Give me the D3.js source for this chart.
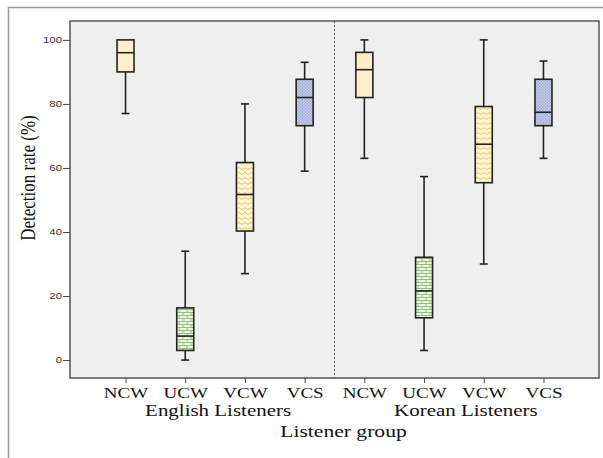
<!DOCTYPE html>
<html>
<head>
<meta charset="utf-8">
<script src="https://cdn.jsdelivr.net/npm/d3@7/dist/d3.min.js"></script>
<style>
  body { margin: 0; background: #fff; }
  svg { display: block; }
</style>
</head>
<body>
<div id="chart"></div>
<script>
// data
const groups = ['English Listeners', 'Korean Listeners'];
const conditions = ['NCW', 'UCW', 'VCW', 'VCS'];
const whiskerLow  = [77, 0, 27, 59,   63, 3, 30, 63];
const q1          = [90, 3, 40.3, 73.2, 82, 13.2, 55.4, 73.2];
const median      = [96, 7.5, 51.7, 82,  90.7, 21.6, 67.4, 77.4];
const q3          = [100, 16.3, 61.7, 87.7, 96.1, 32.1, 79.2, 87.7];
const whiskerHigh = [100, 34, 80, 93,  100, 57.3, 100, 93.4];
const yTicks = [0, 20, 40, 60, 80, 100];

const W = 603, H = 458;
const margin = { top: 21, right: 4, bottom: 80, left: 70 };
const innerW = W - margin.left - margin.right;
const innerH = H - margin.top - margin.bottom;
const stretch = 1.27; // the source picture is a bit wide

const svg = d3.select('#chart').append('svg')
  .attr('width', W)
  .attr('height', H);

// outer frame
svg.append('rect')
  .attr('x', 8.5).attr('y', 7.5)
  .attr('width', 620).attr('height', 480)
  .attr('fill', 'none')
  .attr('stroke', '#999')
  .attr('stroke-width', 1.5);

const defs = svg.append('defs');

// brick pattern (UCW)
const brick = defs.append('pattern')
  .attr('id', 'brick').attr('patternUnits', 'userSpaceOnUse')
  .attr('width', 8).attr('height', 6);
brick.append('rect').attr('width', 8).attr('height', 6).attr('fill', '#eef8e4');
brick.append('path')
  .attr('d', 'M0,0.5H8M0,3.5H8M2,0V3M6,3V6')
  .attr('stroke', '#8fbf78').attr('stroke-width', 1).attr('fill', 'none');

// zigzag pattern (VCW)
const zig = defs.append('pattern')
  .attr('id', 'zig').attr('patternUnits', 'userSpaceOnUse')
  .attr('width', 6).attr('height', 5);
zig.append('rect').attr('width', 6).attr('height', 5).attr('fill', '#fff4d4');
zig.append('path')
  .attr('d', 'M0,1.5L3,3.5L6,1.5')
  .attr('stroke', '#e2c76a').attr('stroke-width', 1).attr('fill', 'none');

// checker pattern (VCS)
const chk = defs.append('pattern')
  .attr('id', 'chk').attr('patternUnits', 'userSpaceOnUse')
  .attr('width', 3).attr('height', 3);
chk.append('rect').attr('width', 3).attr('height', 3).attr('fill', '#d6deef');
chk.append('rect').attr('width', 1.5).attr('height', 1.5).attr('fill', '#8e9fcc');
chk.append('rect').attr('x', 1.5).attr('y', 1.5).attr('width', 1.5).attr('height', 1.5).attr('fill', '#8e9fcc');

const fills = { NCW: '#ffefc9', UCW: 'url(#brick)', VCW: 'url(#zig)', VCS: 'url(#chk)' };

const keys = [];
groups.forEach(g => conditions.forEach(c => keys.push(g + '|' + c)));

const boxes = keys.map((k, i) => ({
  key: k,
  cond: k.split('|')[1],
  lo: whiskerLow[i], q1: q1[i], med: median[i], q3: q3[i], hi: whiskerHigh[i]
}));

const x = d3.scalePoint()
  .domain(keys)
  .range([0, innerW])
  .padding(0.93);

const y = d3.scaleLinear()
  .domain([-5.6, 105.9])
  .range([innerH, 0]);

const g = svg.append('g')
  .attr('transform', `translate(${margin.left},${margin.top})`);

g.append('rect')
  .attr('width', innerW).attr('height', innerH)
  .attr('fill', '#efefef')
  .attr('stroke', '#555').attr('stroke-width', 1.5);

// divider between groups
const divX = (x(keys[3]) + x(keys[4])) / 2;
g.append('line')
  .attr('x1', divX).attr('x2', divX)
  .attr('y1', 0).attr('y2', innerH)
  .attr('stroke', '#555')
  .attr('stroke-dasharray', '2,2');

// y axis
const yAxis = g.append('g')
  .call(d3.axisLeft(y).tickValues(yTicks).tickSize(7).tickSizeOuter(0));
yAxis.select('.domain').remove();
yAxis.selectAll('line').attr('stroke', '#444');
yAxis.selectAll('text')
  .attr('font-family', 'Arial, "Liberation Sans", sans-serif')
  .attr('font-size', 9)
  .attr('fill', '#333')
  .attr('x', 0)
  .attr('transform', `translate(-8,0) scale(${stretch},1)`);

const serif = '"Liberation Serif", "Times New Roman", serif';

// x axis
const xAxis = g.append('g')
  .attr('transform', `translate(0,${innerH})`)
  .call(d3.axisBottom(x).tickSize(5).tickSizeOuter(0).tickFormat(d => d.split('|')[1]));
xAxis.select('.domain').remove();
xAxis.selectAll('line').attr('stroke', '#444');
xAxis.selectAll('text')
  .attr('font-family', serif)
  .attr('font-size', 15)
  .attr('fill', '#111')
  .attr('y', 9)
  .attr('transform', `scale(${stretch},1)`);

const boxW = 17, capW = 8;

const bx = g.selectAll('.box').data(boxes).enter().append('g')
  .attr('class', 'box')
  .attr('transform', d => `translate(${x(d.key)},0)`);

// whiskers
bx.append('line')
  .attr('y1', d => y(d.lo)).attr('y2', d => y(d.hi))
  .attr('stroke', '#222').attr('stroke-width', 1.6);
bx.filter(d => d.hi > d.q3).append('line')
  .attr('x1', -capW / 2).attr('x2', capW / 2)
  .attr('y1', d => y(d.hi)).attr('y2', d => y(d.hi))
  .attr('stroke', '#222').attr('stroke-width', 1.6);
bx.filter(d => d.lo < d.q1).append('line')
  .attr('x1', -capW / 2).attr('x2', capW / 2)
  .attr('y1', d => y(d.lo)).attr('y2', d => y(d.lo))
  .attr('stroke', '#222').attr('stroke-width', 1.6);

// box
bx.append('rect')
  .attr('x', -boxW / 2).attr('width', boxW)
  .attr('y', d => y(d.q3))
  .attr('height', d => y(d.q1) - y(d.q3))
  .attr('fill', d => fills[d.cond])
  .attr('stroke', '#222').attr('stroke-width', 1.6);

bx.append('line')
  .attr('x1', -boxW / 2).attr('x2', boxW / 2)
  .attr('y1', d => y(d.med)).attr('y2', d => y(d.med))
  .attr('stroke', '#222').attr('stroke-width', 1.6);

function label(parent, txt, cx, cy, size) {
  parent.append('text')
    .attr('transform', `translate(${cx},${cy}) scale(${stretch},1)`)
    .attr('text-anchor', 'middle')
    .attr('font-family', serif).attr('font-size', size)
    .attr('fill', '#111')
    .text(txt);
}

// group labels
const groupShift = [3, 12];
groups.forEach((gr, i) => {
  const ks = keys.filter(k => k.startsWith(gr));
  const cx = (x(ks[0]) + x(ks[ks.length - 1])) / 2 + groupShift[i];
  label(g, gr, cx, innerH + 38, 16.5);
});

label(g, 'Listener group', divX + 9, innerH + 59, 17);

// y title, stretched across like the rest of the text
svg.append('text')
  .attr('transform', `translate(35,178) scale(${stretch},1) rotate(-90)`)
  .attr('text-anchor', 'middle')
  .attr('font-family', serif).attr('font-size', 17)
  .attr('fill', '#111')
  .text('Detection rate (%)');
</script>
</body>
</html>
